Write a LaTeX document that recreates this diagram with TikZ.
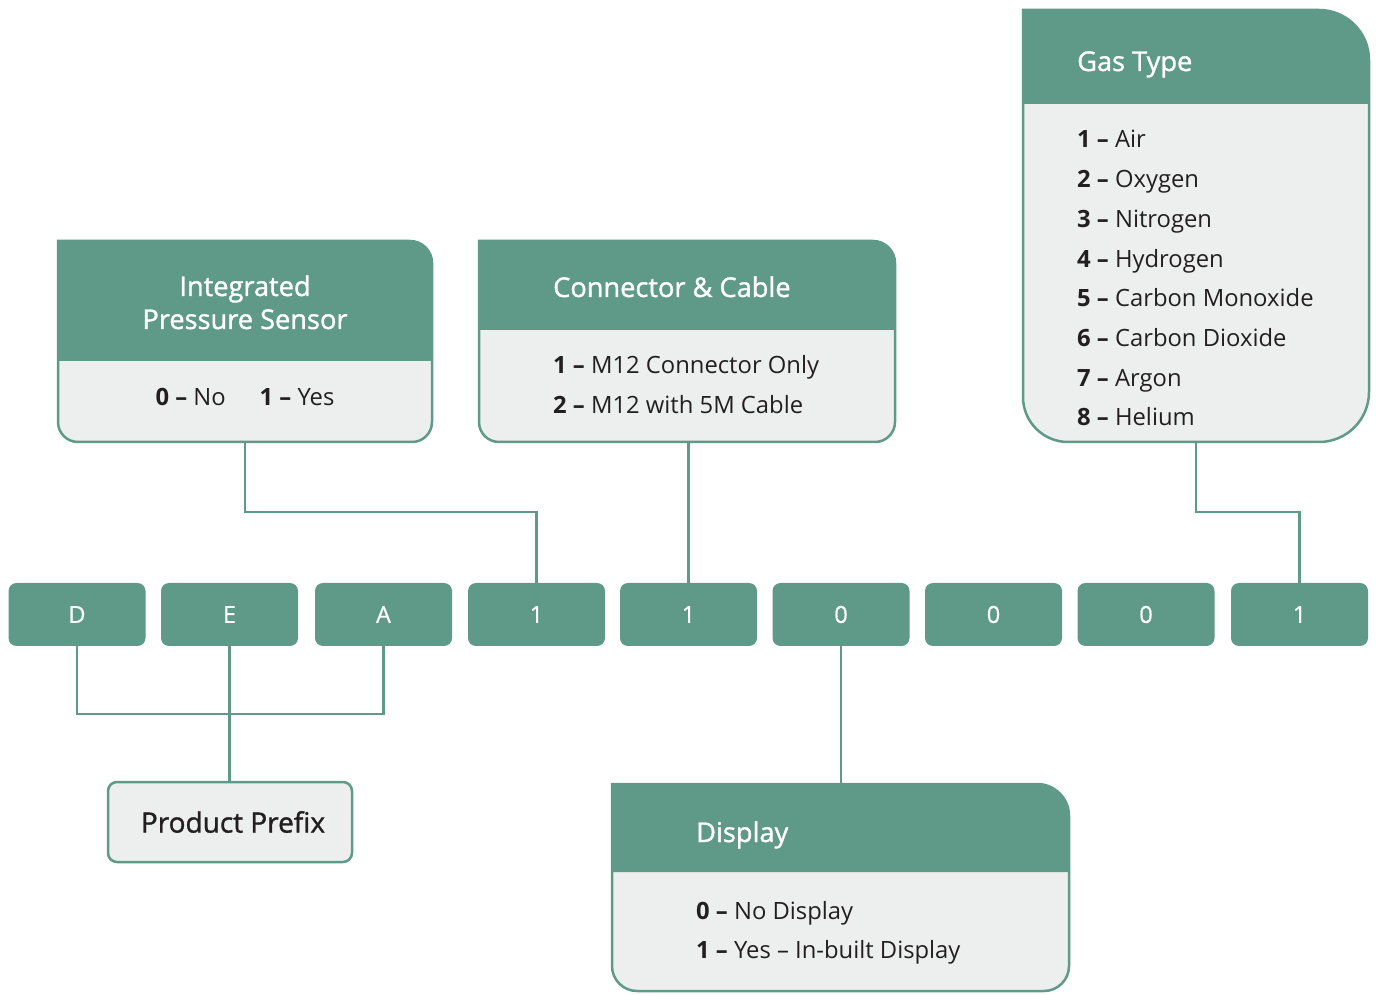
\documentclass[tikz,border=0pt]{standalone}
\usepackage{fontspec}
\setmainfont{Open Sans}
\newfontfamily\headfont[FakeBold=1.2]{Open Sans}
\newfontfamily\codefont[FakeBold=0.6]{Open Sans}
\usetikzlibrary{calc}
\definecolor{tg}{HTML}{5F9A89}
\definecolor{tl}{HTML}{ECEFEE}
\definecolor{tk}{HTML}{231F20}
\tikzset{
  cardframe/.style={rectangle, draw=none, inner sep=0pt, outer sep=0pt},
  code/.style={rectangle, fill=tg, rounded corners=8pt, minimum width=137pt, minimum height=63pt,
    inner sep=0pt, outer sep=0pt, text=white, font=\codefont\fontsize{23.5}{26}\selectfont},
  link/.style={draw=tg, line width=2.5pt},
  head/.style={text=white, inner sep=0pt, font=\headfont\fontsize{27.2}{30}\selectfont},
  item/.style={text=tk, inner sep=0pt, anchor=base west, font=\fontsize{23.8}{26}\selectfont},
}
\newcommand\card[5]{%
  \filldraw[fill=tl, draw=tg, line width=2.5pt] (#1.north west) -- ($(#1.north east)+(-#2,0)$)
    arc[start angle=90,end angle=0,radius=#2pt] -- ($(#1.south east)+(0,#3)$)
    arc[start angle=0,end angle=-90,radius=#3pt] -- ($(#1.south west)+(#4,0)$)
    arc[start angle=270,end angle=180,radius=#4pt] -- cycle;
  \fill[tg] (#1.north west) -- ($(#1.north east)+(-#2,0)$)
    arc[start angle=90,end angle=0,radius=#2pt] -- ($(#1.north east)+(0,-#5)$)
    -- ($(#1.north west)+(0,-#5)$) -- cycle;
}
\begin{document}
\begin{tikzpicture}[x=1pt,y=1pt]
\useasboundingbox (0,0) rectangle (1378,994);
% card frames
\node[cardframe, minimum width=374pt, minimum height=201pt] (ips) at (245,652.5) {};
\node[cardframe, minimum width=416pt, minimum height=201pt] (conn) at (687,652.5) {};
\node[cardframe, minimum width=346pt, minimum height=432pt] (gas) at (1196,768) {};
\node[cardframe, minimum width=457pt, minimum height=207pt] (disp) at (840.5,106.5) {};
\card{ips}{22}{20}{20}{120}
\card{conn}{22}{20}{20}{89}
\card{gas}{50}{50}{45}{94}
\card{disp}{32}{25}{25}{88}
% product prefix
\node[rectangle, draw=tg, fill=tl, line width=2.5pt, rounded corners=9pt, minimum width=244pt,
  minimum height=80pt, inner sep=0pt, text=tk, font=\headfont\fontsize{28}{32}\selectfont] (pp) at (230,172) {\hspace{6pt}Product Prefix};
% codes
\foreach \n/\x/\t in {c1/77/D, c2/229.5/E, c3/383.5/A, c4/536.5/1, c5/688.5/1, c6/841/0, c7/993.5/0, c8/1146/0, c9/1299.5/1}
  \node[code] (\n) at (\x,379.5) {\t};
% titles
\node[head, anchor=base] (ipst1) at (245,698) {Integrated};
\node[head, anchor=base] (ipst2) at (245,665) {Pressure Sensor};
\node[head, anchor=base west] (connt) at (553,697) {Connector \& Cable};
\node[head, anchor=base west] (gast) at (1077,923) {Gas Type};
\node[head, anchor=base west] (dispt) at (696,152) {Display};
% items
\node[item, anchor=base] (ipsi) at (245,588) {\textbf{0 –} No\hspace{34pt}\textbf{1 –} Yes};
\node[item] (conni1) at (553,620) {\textbf{1 –} M12 Connector Only};
\node[item] (conni2) at (553,580) {\textbf{2 –} M12 with 5M Cable};
\node[item] (gasi1) at (1077,846) {\textbf{1 –} Air};
\node[item] (gasi2) at (1077,806.3) {\textbf{2 –} Oxygen};
\node[item] (gasi3) at (1077,766.6) {\textbf{3 –} Nitrogen};
\node[item] (gasi4) at (1077,726.9) {\textbf{4 –} Hydrogen};
\node[item] (gasi5) at (1077,687.2) {\textbf{5 –} Carbon Monoxide};
\node[item] (gasi6) at (1077,647.5) {\textbf{6 –} Carbon Dioxide};
\node[item] (gasi7) at (1077,607.8) {\textbf{7 –} Argon};
\node[item] (gasi8) at (1077,568.1) {\textbf{8 –} Helium};
\node[item] (dispi1) at (696,75) {\textbf{0 –} No Display};
\node[item] (dispi2) at (696,36) {\textbf{1 –} Yes – In-built Display};
% connectors
\draw[link] (ips.south) -- ++(0,-70) -| (c4.north);
\draw[link] (c5.north) -- (c5.north |- conn.south);
\draw[link] (gas.south) -- ++(0,-70) -| (c9.north);
\draw[link] (c6.south) -- (c6.south |- disp.north);
\draw[link] (c1.south) -- ++(0,-68) -| (c3.south);
\draw[link] (c2.south) -- (c2.south |- pp.north);
\end{tikzpicture}
\end{document}
